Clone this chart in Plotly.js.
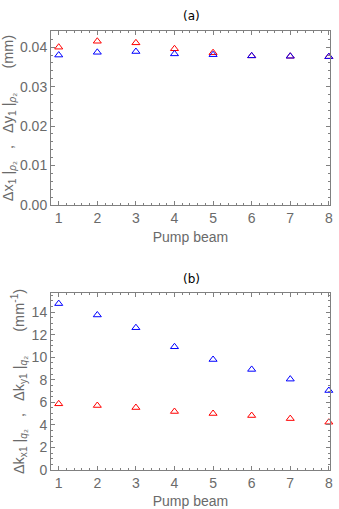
<!DOCTYPE html>
<html>
<head>
<meta charset="utf-8">
<script src="https://cdn.plot.ly/plotly-3.0.1.min.js"></script>
<style>
  html, body { margin: 0; padding: 0; background: #fff; }
  #chart { width: 339px; height: 509px; }
</style>
</head>
<body>
<div id="chart"></div>
<script>
// pump beam index
var beams = [1, 2, 3, 4, 5, 6, 7, 8];

// panel (a): spatial widths (mm)
var dxRho = [0.0400, 0.0415, 0.0411, 0.0396, 0.0386, 0.0378, 0.0377, 0.0376];
var dyRho = [0.0380, 0.0387, 0.0389, 0.0383, 0.0381, 0.0378, 0.0377, 0.0376];

// panel (b): spectral widths (mm^-1)
var dkxQ = [5.87, 5.72, 5.54, 5.19, 5.01, 4.83, 4.56, 4.24];
var dkyQ = [14.76, 13.75, 12.62, 10.93, 9.80, 8.92, 8.06, 7.05];

var red = "rgb(255,0,0)";
var blue = "rgb(0,0,255)";
var grey = "#6a6a6a";
var frame = "#808080";
var fam = "Liberation Sans";
var sp = "\u00a0\u00a0\u00a0";

var mk = function (color) {
    return { symbol: "triangle-up-open", size: 7, color: color, line: { width: 1, color: color } };
};

var data = [
    { x: beams, y: dxRho, mode: "markers", type: "scatter", marker: mk(red), xaxis: "x", yaxis: "y", cliponaxis: false },
    { x: beams, y: dyRho, mode: "markers", type: "scatter", marker: mk(blue), xaxis: "x", yaxis: "y", cliponaxis: false },
    { x: beams, y: dkxQ, mode: "markers", type: "scatter", marker: mk(red), xaxis: "x2", yaxis: "y2", cliponaxis: false },
    { x: beams, y: dkyQ, mode: "markers", type: "scatter", marker: mk(blue), xaxis: "x2", yaxis: "y2", cliponaxis: false }
];

var tickFont = { family: fam, size: 14, color: grey };

var xax = function (anchor) {
    return {
        anchor: anchor,
        range: [0.8, 8.03],
        tickvals: beams,
        ticks: "inside", ticklen: 4, tickcolor: frame,
        minor: { dtick: 0.2, tick0: 0, ticks: "inside", ticklen: 2, tickcolor: frame },
        showline: true, linecolor: frame, linewidth: 1, mirror: "ticks",
        showgrid: false, zeroline: false,
        tickfont: tickFont,
        title: { text: "Pump beam", font: { family: fam, size: 14, color: grey }, standoff: 7 }
    };
};

var layout = {
    width: 339, height: 509,
    margin: { l: 51, r: 9, t: 31, b: 39 },
    showlegend: false,
    paper_bgcolor: "#fff", plot_bgcolor: "#fff",
    xaxis: Object.assign(xax("y"), { domain: [0, 1] }),
    xaxis2: Object.assign(xax("y2"), { domain: [0, 1] }),
    yaxis: {
        domain: [0.6036, 1],
        range: [0, 0.0441],
        dtick: 0.01, tickformat: ".2f",
        ticks: "inside", ticklen: 4, tickcolor: frame,
        minor: { dtick: 0.002, ticks: "inside", ticklen: 2, tickcolor: frame },
        showline: true, linecolor: frame, linewidth: 1, mirror: "ticks",
        showgrid: false, zeroline: false,
        tickfont: tickFont,
        title: {
            text: "Δx<sub>1</sub> |<sub><i>ρ</i>₂</sub>" + sp + "," + sp + "Δy<sub>1</sub> |<sub><i>ρ</i>₂</sub>" + sp + sp + "(mm)",
            font: { family: fam, size: 14.5, color: grey },
            standoff: 3
        }
    },
    yaxis2: {
        domain: [0, 0.4032],
        range: [0, 15.7],
        dtick: 2,
        ticks: "inside", ticklen: 4, tickcolor: frame,
        minor: { dtick: 0.5, ticks: "inside", ticklen: 2, tickcolor: frame },
        showline: true, linecolor: frame, linewidth: 1, mirror: "ticks",
        showgrid: false, zeroline: false,
        tickfont: tickFont,
        title: {
            text: "Δk<sub>x1</sub> |<sub><i>q</i>₂</sub>" + sp + "," + sp + "Δk<sub>y1</sub> |<sub><i>q</i>₂</sub>" + sp + sp + "(mm<sup>-1</sup>)",
            font: { family: fam, size: 14.5, color: grey },
            standoff: 3
        }
    },
    annotations: [
        { text: "(a)", xref: "paper", yref: "paper", x: 0.505, y: 1, yshift: 15, showarrow: false,
          xanchor: "center", yanchor: "middle", font: { family: "DejaVu Sans", size: 12, color: "#000" } },
        { text: "(b)", xref: "paper", yref: "paper", x: 0.505, y: 0.4032, yshift: 14, showarrow: false,
          xanchor: "center", yanchor: "middle", font: { family: "DejaVu Sans", size: 12, color: "#000" } }
    ]
};

Plotly.newPlot("chart", data, layout, { staticPlot: true, displayModeBar: false });
</script>
</body>
</html>
